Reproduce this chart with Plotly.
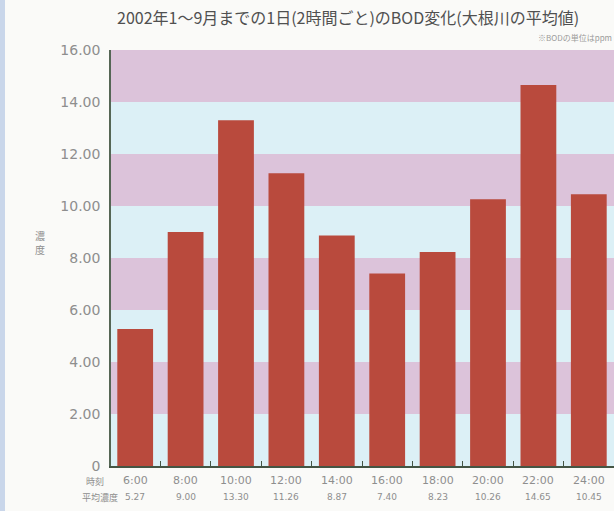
import plotly.graph_objects as go

times = ["6:00", "8:00", "10:00", "12:00", "14:00", "16:00", "18:00", "20:00", "22:00", "24:00"]
values = [5.27, 9.00, 13.30, 11.26, 8.87, 7.40, 8.23, 10.26, 14.65, 10.45]
value_labels = ["5.27", "9.00", "13.30", "11.26", "8.87", "7.40", "8.23", "10.26", "14.65", "10.45"]
y_ticks = [0, 2, 4, 6, 8, 10, 12, 14, 16]
y_ticktext = ["0", "2.00", "4.00", "6.00", "8.00", "10.00", "12.00", "14.00", "16.00"]

FONT = "Noto Sans CJK JP"
NUMFONT = "DejaVu Sans"
BAR = "#b94a3d"
PINK = "#dcc3da"
BLUE = "#dcf0f6"
TXT = "#8e8e8e"

PW, PH, L, B = 503, 416, 111, 466


def px(xp):
    return (xp - L) / PW


def py(yp):
    return (B - yp) / PH


x = list(range(len(times)))

fig = go.Figure()
fig.add_trace(go.Bar(
    x=x, y=values, marker=dict(color=BAR, line=dict(width=0)), width=0.71,
    hoverinfo="skip",
))

shapes = []
for lo in [14, 10, 6, 2]:
    shapes.append(dict(type="rect", xref="paper", yref="y", x0=0, x1=1, y0=lo, y1=lo + 2,
                       fillcolor=PINK, line=dict(width=0), layer="below"))
shapes.append(dict(type="rect", xref="paper", yref="paper", x0=px(0), x1=px(5), y0=-1, y1=2,
                   fillcolor="#c9d6ea", line=dict(width=0), layer="below"))

annotations = []
for i, (t, v) in enumerate(zip(times, value_labels)):
    annotations.append(dict(x=i, y=py(480), xref="x", yref="paper", text=t, showarrow=False,
                            font=dict(family=NUMFONT, size=11, color=TXT), yanchor="middle"))
    annotations.append(dict(x=i, y=py(497), xref="x", yref="paper", text=v, showarrow=False,
                            font=dict(family=NUMFONT, size=9, color=TXT), yanchor="middle"))
annotations.append(dict(x=px(84), y=py(481), xref="paper", yref="paper", text="時刻", showarrow=False,
                        yanchor="middle", font=dict(family=FONT, size=9, color=TXT)))
annotations.append(dict(x=px(80), y=py(497), xref="paper", yref="paper",
                        text="平均濃度", showarrow=False, yanchor="middle",
                        font=dict(family=FONT, size=9, color=TXT)))
annotations.append(dict(x=px(33), y=py(235), xref="paper", yref="paper",
                        text="濃", showarrow=False, yanchor="middle",
                        font=dict(family=FONT, size=10, color=TXT)))
annotations.append(dict(x=px(33), y=py(249), xref="paper", yref="paper",
                        text="度", showarrow=False, yanchor="middle",
                        font=dict(family=FONT, size=10, color=TXT)))
annotations.append(dict(x=px(348), y=py(17), xref="paper", yref="paper", yanchor="middle",
                        text="2002年1～9月までの1日(2時間ごと)のBOD変化(大根川の平均値)",
                        showarrow=False, font=dict(family=FONT, size=16, color="#505050")))
annotations.append(dict(x=1, y=py(37), xref="paper", yref="paper", xanchor="right", yanchor="middle",
                        text="※BODの単位はppm", showarrow=False,
                        font=dict(family=FONT, size=8, color="#9a9a9a")))

fig.update_layout(
    width=614, height=511,
    margin=dict(l=L, r=0, t=50, b=45),
    paper_bgcolor="#fafaf8",
    plot_bgcolor=BLUE,
    showlegend=False,
    shapes=shapes,
    annotations=annotations,
    xaxis=dict(range=[-0.48, 9.5], tickvals=[i + 0.5 for i in range(9)], ticktext=[""] * 9,
               ticks="inside", ticklen=5, tickcolor="#445544", showgrid=False, zeroline=False,
               showline=True, linecolor="#445544", linewidth=2, fixedrange=True),
    yaxis=dict(range=[0, 16], tickvals=y_ticks, ticktext=y_ticktext, showgrid=False, zeroline=False,
               showline=True, linecolor="#556655", linewidth=1.5, ticks="",
               tickfont=dict(family=NUMFONT, size=14, color=TXT), ticklabelstandoff=6),
)

fig.write_html("out.html")
